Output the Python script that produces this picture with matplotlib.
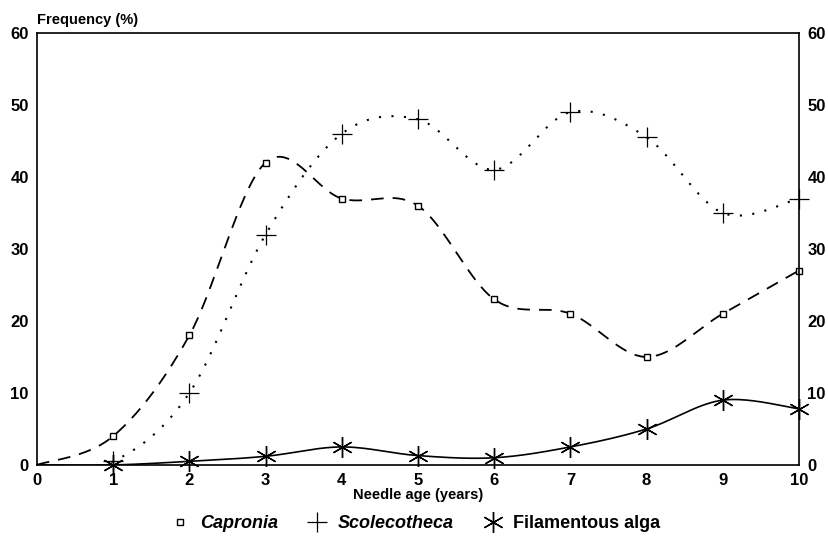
import numpy as np
import matplotlib.pyplot as plt
from matplotlib.lines import Line2D

plt.rcParams['font.family'] = ['Liberation Sans', 'DejaVu Sans']

# Needle age (years) and frequency (%)
age = [0, 1, 2, 3, 4, 5, 6, 7, 8, 9, 10]
capronia = [0, 4, 18, 42, 37, 36, 23, 21, 15, 21, 27]
scolecotheca = [0, 0.5, 10, 32, 46, 48, 41, 49, 45.5, 35, 37]
alga = [0, 0, 0.5, 1.2, 2.5, 1.3, 1.0, 2.5, 5, 9, 7.8]

names = ['Capronia', 'Scolecotheca', 'Filamentous alga']


def smooth(x, y, n=40):
    # Catmull-Rom spline through the points (same as a "smoothed line" chart)
    x = np.asarray(x, float)
    y = np.asarray(y, float)
    px = np.concatenate([[x[0]], x, [x[-1]]])
    py = np.concatenate([[y[0]], y, [y[-1]]])
    xs, ys = [], []
    t = np.linspace(0, 1, n)
    for i in range(1, len(px) - 2):
        p0, p1, p2, p3 = py[i - 1], py[i], py[i + 1], py[i + 2]
        q0, q1, q2, q3 = px[i - 1], px[i], px[i + 1], px[i + 2]
        b1 = p1 + (p2 - p0) / 6
        b2 = p2 - (p3 - p1) / 6
        c1 = q1 + (q2 - q0) / 6
        c2 = q2 - (q3 - q1) / 6
        bx = (1-t)**3*q1 + 3*(1-t)**2*t*c1 + 3*(1-t)*t**2*c2 + t**3*q2
        by = (1-t)**3*p1 + 3*(1-t)**2*t*b1 + 3*(1-t)*t**2*b2 + t**3*p2
        xs.append(bx)
        ys.append(by)
    return np.concatenate(xs), np.concatenate(ys)


fig = plt.figure(figsize=(8.29, 5.40), dpi=100)
ax = fig.add_axes([0.0446, 0.139, 0.9192, 0.800])

sx, sy = smooth(age, capronia)
ax.plot(sx, sy, color='black', lw=1.3, linestyle=(0, (7, 5)), clip_on=True)
ax.plot(age[1:], capronia[1:], linestyle='none', marker='s', ms=4.5,
        mfc='white', mec='black', mew=1.0, clip_on=False)

sx, sy = smooth(age, scolecotheca)
ax.plot(sx, sy, color='black', lw=1.5, linestyle=(0, (1, 5)), clip_on=True)
ax.plot(age[1:], scolecotheca[1:], linestyle='none', marker='+', ms=15,
        mec='black', mew=0.9, clip_on=False)

sx, sy = smooth(age, alga)
ax.plot(sx, sy, color='black', lw=1.2, linestyle='-', clip_on=True)
ax.plot(age[1:], alga[1:], linestyle='none', marker=(6, 2, 0), ms=15,
        mec='black', mew=1.0, clip_on=False)

ax.set_xlim(0, 10)
ax.set_ylim(0, 60)
ax.set_xticks(range(0, 11))
ax.set_yticks(range(0, 61, 10))
ax.tick_params(length=0, labelsize=12, pad=6, labelright=True)
for lab in ax.get_xticklabels() + ax.get_yticklabels():
    lab.set_fontweight('bold')
for sp in ax.spines.values():
    sp.set_linewidth(1.2)

ax.set_xlabel('Needle age (years)', fontsize=10.5, fontweight='bold', labelpad=0)
fig.text(0.0446, 0.963, 'Frequency (%)', fontsize=10.5, fontweight='bold',
         ha='left', va='center')

handles = [
    Line2D([], [], linestyle='none', marker='s', ms=4.5, mfc='white', mec='black'),
    Line2D([], [], linestyle='none', marker='+', ms=15, mec='black', mew=0.9),
    Line2D([], [], linestyle='none', marker=(6, 2, 0), ms=15, mec='black', mew=1.0),
]
leg = fig.legend(handles, names, loc='center', bbox_to_anchor=(0.5, 0.03),
                 ncol=3, frameon=False, fontsize=13, handlelength=1.2,
                 handletextpad=0.5, columnspacing=1.6)
for i, txt in enumerate(leg.get_texts()):
    txt.set_fontweight('bold')
    if i < 2:
        txt.set_fontstyle('italic')

fig.savefig('out.png', dpi=100)
